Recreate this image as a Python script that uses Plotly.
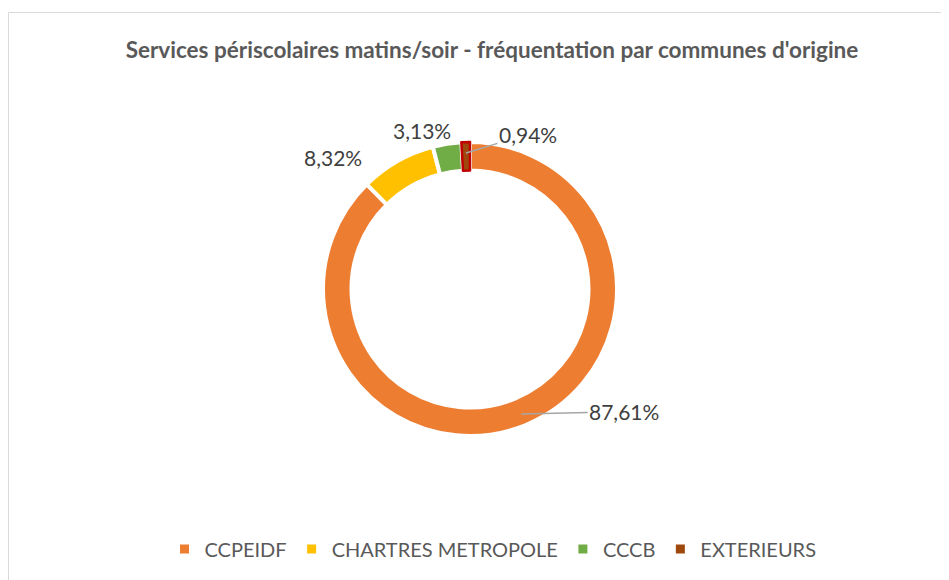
import math
import plotly.graph_objects as go

categories = ["CCPEIDF", "CHARTRES METROPOLE", "CCCB", "EXTERIEURS"]
values = [87.61, 8.32, 3.13, 0.94]
labels_txt = ["87,61%", "8,32%", "3,13%", "0,94%"]
colors = ["#ED7D31", "#FFC000", "#70AD47", "#9E480E"]
line_colors = ["white", "white", "white", "#C00000"]
line_widths = [4, 4, 4, 2.5]

W, H = 949, 580
CX, CY, R = 462, 281, 147  # pie centre / radius in pixels (paper coords)
FONT = "Lato"

dom_x = [(CX - R) / W, (CX + R) / W]
dom_y = [(H - CY - R) / H, (H - CY + R) / H]

fig = go.Figure()
fig.add_trace(go.Pie(
    labels=categories, values=values, sort=False, direction="clockwise",
    rotation=0, hole=0.806, textinfo="none", hoverinfo="label+percent",
    marker=dict(colors=colors, line=dict(color=line_colors, width=line_widths)),
    domain=dict(x=dom_x, y=dom_y), showlegend=False,
))

# legend entries (plain squares, as in the reference)
for name, col in zip(categories, colors):
    fig.add_trace(go.Scatter(
        x=[None], y=[None], mode="markers", name=name,
        marker=dict(symbol="square", size=9, color=col), showlegend=True,
    ))
fig.update_xaxes(visible=False)
fig.update_yaxes(visible=False)

# label anchors computed from slice mid-angles
total = sum(values)
cum = 0
mids = []
for v in values:
    mids.append((cum + v / 2) / total * 2 * math.pi)
    cum += v

def pt(angle, r):
    px = CX + r * math.sin(angle)
    py = CY - r * math.cos(angle)
    return px / W, 1 - py / H

# per label: (radius for anchor, leader?, dx, dy)
label_style = [
    (135, True, 103, -2),
    (145, False, -65, 5),
    (145, False, -25, 15),
    (136, True, 62, -19),
]
annotations = []
for txt, ang, (rr, lead, dx, dy) in zip(labels_txt, mids, label_style):
    x, y = pt(ang, rr)
    if lead:
        annotations.append(dict(
            x=x, y=y, xref="paper", yref="paper", text=txt, showarrow=True,
            ax=dx, ay=dy, arrowhead=0, arrowwidth=1.5, arrowcolor="#A6A6A6",
            standoff=0, font=dict(family=FONT, size=21, color="#404040")))
    else:
        annotations.append(dict(
            x=x, y=y, xref="paper", yref="paper", text=txt, showarrow=False,
            xanchor="center", yanchor="middle",
            xshift=dx, yshift=dy, font=dict(family=FONT, size=21, color="#404040")))

fig.update_layout(
    width=W, height=H, margin=dict(l=0, r=0, t=0, b=0),
    paper_bgcolor="white", plot_bgcolor="white",
    title=dict(text="<b>Services périscolaires matins/soir - fréquentation par communes d'origine</b>",
               x=484 / W, xanchor="center", y=1 - 42 / H, yanchor="middle",
               font=dict(family=FONT, size=22.5, color="#595959")),
    legend=dict(orientation="h", x=485 / W, xanchor="center", y=1 - 541 / H, yanchor="middle",
                font=dict(family=FONT, size=20, color="#595959"), itemwidth=30,
                traceorder="normal"),
    annotations=annotations,
    shapes=[dict(type="rect", xref="paper", yref="paper", x0=0.5 / W, x1=1.05,
                 y0=-0.05, y1=1 - 4.5 / H, line=dict(color="#D9D9D9", width=1))],
)

fig.write_html("out.html")
